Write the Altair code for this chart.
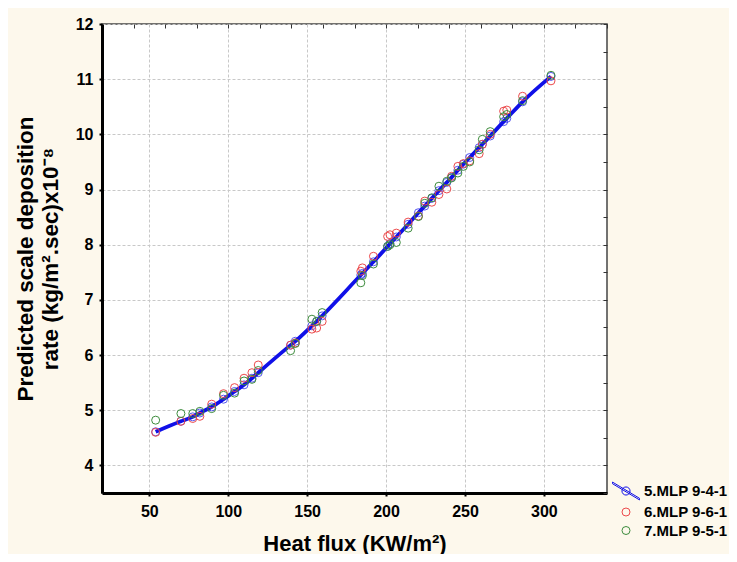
import altair as alt
import pandas as pd

# ---- data ----
heat_flux = [54, 70, 77.5, 82, 89.5, 97, 104, 110, 115, 119, 139.5, 142.5, 153, 156, 159.5,
             184, 185, 192, 201, 202.5, 206.5, 214, 220.5, 224.5, 229, 233.5, 238.5, 241.5,
             245.5, 249, 253, 259, 261, 266, 274.5, 276.5, 286.5, 304.5]
mlp_941 = [4.61, 4.80, 4.88, 4.95, 5.06, 5.20, 5.34, 5.46, 5.58, 5.68, 6.18, 6.25, 6.53, 6.61, 6.71,
           7.45, 7.48, 7.69, 7.97, 8.02, 8.14, 8.37, 8.58, 8.70, 8.84, 8.98, 9.13, 9.22,
           9.35, 9.46, 9.58, 9.76, 9.82, 9.97, 10.23, 10.29, 10.59, 11.05]
mlp_961 = [4.60, 4.80, 4.85, 4.89, 5.11, 5.30, 5.41, 5.58, 5.68, 5.82, 6.18, 6.22, 6.47, 6.49, 6.61,
           7.52, 7.58, 7.79, 8.15, 8.18, 8.21, 8.41, 8.52, 8.79, 8.77, 8.91, 9.01, 9.24,
           9.42, 9.47, 9.52, 9.65, 9.82, 10.00, 10.42, 10.44, 10.69, 10.97]
mlp_951 = [4.82, 4.94, 4.94, 4.98, 5.03, 5.27, 5.31, 5.53, 5.56, 5.72, 6.08, 6.21, 6.65, 6.61, 6.77,
           7.31, 7.44, 7.65, 7.97, 8.00, 8.04, 8.30, 8.51, 8.75, 8.85, 9.06, 9.15, 9.21,
           9.30, 9.42, 9.50, 9.72, 9.91, 10.05, 10.32, 10.36, 10.61, 11.07]

series_names = ["5.MLP 9-4-1", "6.MLP 9-6-1", "7.MLP 9-5-1"]
series_colors = ["#1010e8", "#ec4a4c", "#3d8c3d"]
x_ticks = [50, 100, 150, 200, 250, 300]
y_ticks = [4, 5, 6, 7, 8, 9, 10, 11, 12]
top_ticks = list(range(20, 341, 20))
right_ticks = [v / 2 for v in range(7, 25)]

blue_df = pd.DataFrame({"x": heat_flux, "y": mlp_941, "s": series_names[0]})
other_df = pd.concat([
    pd.DataFrame({"x": heat_flux, "y": mlp_961, "s": series_names[1]}),
    pd.DataFrame({"x": heat_flux, "y": mlp_951, "s": series_names[2]}),
])

FONT = "Liberation Sans"
xscale = alt.Scale(domain=[20, 340], nice=False, zero=False)
yscale = alt.Scale(domain=[3.5, 12], nice=False, zero=False)

# legend symbol for the line series: thick diagonal line with a circle
line_sym = ("M-1,-0.66L1,0.54L1,0.66L-1,-0.54Z"
            "M0.3,0A0.3,0.3 0 1,1 -0.3,0A0.3,0.3 0 1,1 0.3,0Z")

line = alt.Chart(blue_df).mark_line(color=series_colors[0], strokeWidth=3.8,
                                    interpolate="monotone").encode(
    x=alt.X("x:Q", scale=xscale, axis=alt.Axis(
        values=x_ticks, title="Heat flux (KW/m²)", grid=True, gridColor="#c8c8c8",
        gridDash=[3, 2], domainColor="black", domainWidth=3, tickColor="black",
        tickSize=3, tickWidth=2, labelPadding=7, labelFontSize=16, labelFontWeight="bold",
        labelColor="black", titleFontSize=22, titleFontWeight="bold", titleColor="black",
        titlePadding=14, labelFont=FONT, titleFont=FONT)),
    y=alt.Y("y:Q", scale=yscale, axis=alt.Axis(
        values=y_ticks, title=["Predicted scale deposition", "rate (kg/m².sec)x10⁻⁸"],
        grid=True, gridColor="#c8c8c8", gridDash=[3, 2], domainColor="black",
        domainWidth=3, tickColor="black", tickSize=3, tickWidth=2, labelPadding=6,
        labelFontSize=16, labelFontWeight="bold", labelColor="black", titleFontSize=22.5,
        titleFontWeight="bold", titleColor="black", titlePadding=13, titleLineHeight=25,
        labelFont=FONT, titleFont=FONT)),
)

blue_pts = alt.Chart(blue_df).mark_point(shape="circle", filled=False, size=64,
                                         strokeWidth=1, color=series_colors[0]).encode(
    x=alt.X("x:Q", scale=xscale, axis=None),
    y=alt.Y("y:Q", scale=yscale, axis=None),
)

legend_kw = dict(title=None, orient="none", legendX=510, legendY=453)
pts = alt.Chart(other_df).mark_point(filled=False, strokeWidth=1, opacity=1).encode(
    x=alt.X("x:Q", scale=xscale, axis=None),
    y=alt.Y("y:Q", scale=yscale, axis=None),
    color=alt.Color("s:N", scale=alt.Scale(domain=series_names, range=series_colors),
                    legend=alt.Legend(labelFont=FONT, labelFontSize=15, labelFontWeight="bold",
                                      labelColor="black", symbolStrokeWidth=1,
                                      rowPadding=2.5, labelOffset=4, padding=0, **legend_kw)),
    shape=alt.Shape("s:N", scale=alt.Scale(domain=series_names,
                                           range=[line_sym, "circle", "circle"]),
                    legend=alt.Legend(**legend_kw)),
    size=alt.Size("s:N", scale=alt.Scale(type="ordinal", domain=series_names,
                                         range=[729, 64, 64]),
                  legend=alt.Legend(**legend_kw)),
)

frame = alt.Chart(blue_df).mark_point(opacity=0).encode(
    x=alt.X("x:Q", scale=xscale, axis=alt.Axis(
        orient="top", values=top_ticks, labels=False, domain=False, grid=False,
        ticks=True, tickSize=4, tickColor="#333333", tickWidth=1, offset=-4, title=None)),
    y=alt.Y("y:Q", scale=yscale, axis=alt.Axis(
        orient="right", values=right_ticks, labels=False, domain=False, grid=False,
        ticks=True, tickSize=4, tickColor="#333333", tickWidth=1, offset=-4, title=None)),
)

chart = alt.layer(line, blue_pts, pts, frame).resolve_axis(
    x="independent", y="independent"
).properties(
    width=505, height=469,
    padding={"left": 94, "top": 16, "right": 122, "bottom": 61},
    autosize=alt.AutoSizeParams(type="none"),
    background="#fdf8ec",
).configure_view(
    fill="white", stroke="#444444", strokeWidth=1.5
)

chart.save("out.html", embed_options={"renderer": "svg", "actions": False})
